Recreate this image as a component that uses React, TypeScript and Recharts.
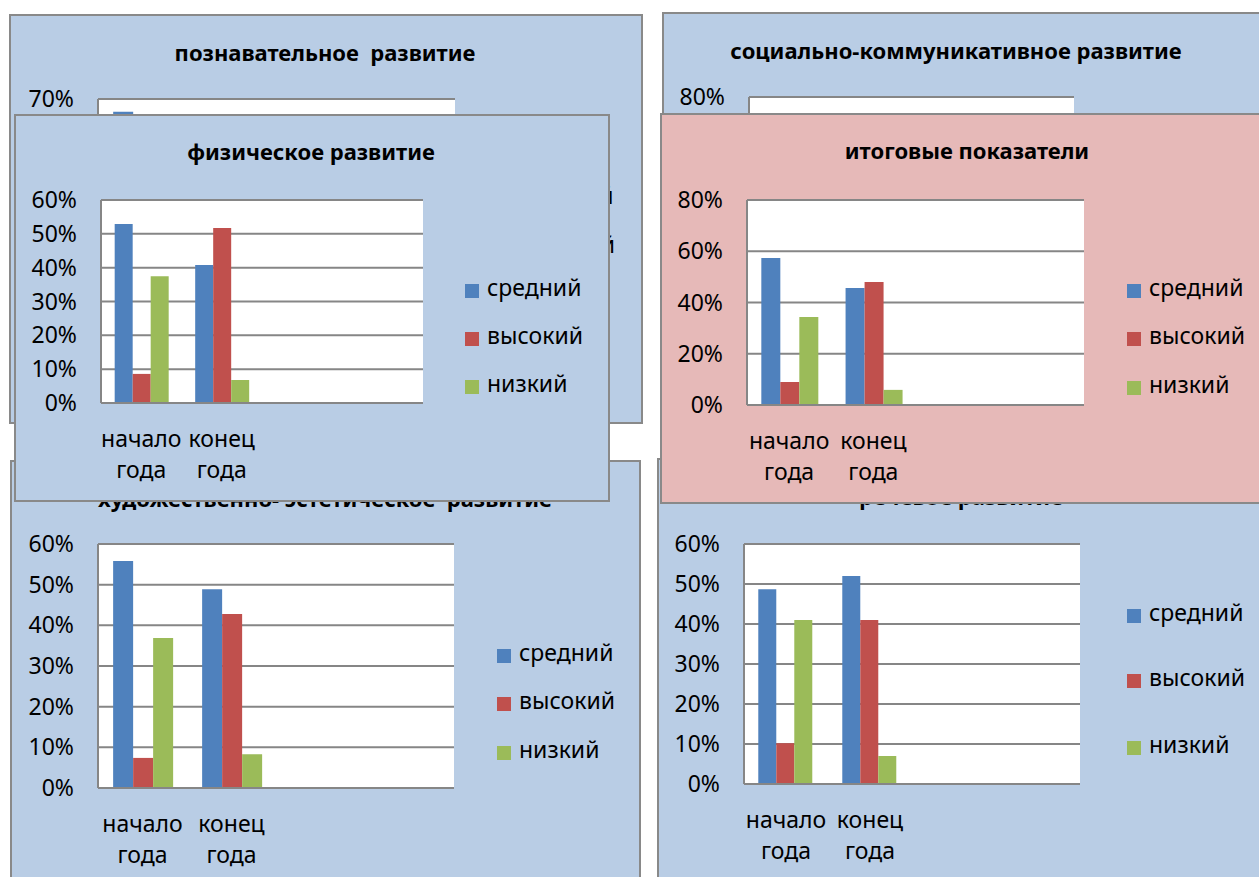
import React from 'react';
import { BarChart, Bar, XAxis, YAxis, CartesianGrid } from 'recharts';

const FONT = '"Noto Sans", sans-serif';
const GRID = '#868686';
const BORDER = '#898989';
const BLUE_BG = '#b9cde5';
const PINK_BG = '#e6b9b8';

const categories = ['начало года', 'конец года', '', ''];
const seriesNames = ['средний', 'высокий', 'низкий'];
const seriesKeys = ['mid', 'high', 'low'];
const seriesColors = ['#4f81bd', '#c0504d', '#9bbb59'];

const ticks60 = [0, 10, 20, 30, 40, 50, 60];
const ticks70 = [0, 10, 20, 30, 40, 50, 60, 70];
const ticks80 = [0, 20, 40, 60, 80];

// познавательное развитие (almost all hidden behind the front chart)
const cognitiveMid = [66, 50, null, null];
const cognitiveHigh = [10, 42, null, null];
const cognitiveLow = [24, 8, null, null];

// социально-коммуникативное развитие (hidden)
const socialMid = [55, 45, null, null];
const socialHigh = [12, 50, null, null];
const socialLow = [33, 5, null, null];

// физическое развитие
const physicalMid = [52.9, 40.8, null, null];
const physicalHigh = [8.6, 51.7, null, null];
const physicalLow = [37.5, 6.8, null, null];

// итоговые показатели
const totalMid = [57.4, 45.7, null, null];
const totalHigh = [9.0, 48.0, null, null];
const totalLow = [34.3, 5.9, null, null];

// художественно-эстетическое развитие
const artMid = [55.8, 48.9, null, null];
const artHigh = [7.4, 42.8, null, null];
const artLow = [36.9, 8.3, null, null];

// речевое развитие
const speechMid = [48.7, 52.0, null, null];
const speechHigh = [10.2, 41.0, null, null];
const speechLow = [41.0, 7.0, null, null];

type Panel = {
  title: string;
  box: number[]; // left, top, right, bottom (page px)
  plot: number[];
  bg: string;
  titleX: number;
  titleBase: number;
  yMax: number;
  ticks: number[];
  series: (number | null)[][];
  legendX: number;
  legendY: number[];
};

// drawn in this order: the back row first, the two front charts last
const panels: Panel[] = [
  {
    title: 'познавательное  развитие',
    box: [9, 14, 643, 424],
    plot: [98, 99, 455, 320],
    bg: BLUE_BG,
    titleX: 325,
    titleBase: 61,
    yMax: 70,
    ticks: ticks70,
    series: [cognitiveMid, cognitiveHigh, cognitiveLow],
    legendX: 497,
    legendY: [199, 248, 297],
  },
  {
    title: 'социально-коммуникативное развитие',
    box: [662, 12, 1272, 420],
    plot: [749, 97, 1074, 300],
    bg: BLUE_BG,
    titleX: 956,
    titleBase: 59,
    yMax: 80,
    ticks: ticks80,
    series: [socialMid, socialHigh, socialLow],
    legendX: 1127,
    legendY: [170, 210, 250],
  },
  {
    title: 'художественно- эстетическое  развитие',
    box: [10, 460, 641, 900],
    plot: [98, 544, 454, 788],
    bg: BLUE_BG,
    titleX: 325,
    titleBase: 507,
    yMax: 60,
    ticks: ticks60,
    series: [artMid, artHigh, artLow],
    legendX: 497,
    legendY: [656, 704, 753],
  },
  {
    title: 'речевое развитие',
    box: [657, 458, 1272, 900],
    plot: [744, 544, 1080, 784],
    bg: BLUE_BG,
    titleX: 961,
    titleBase: 505,
    yMax: 60,
    ticks: ticks60,
    series: [speechMid, speechHigh, speechLow],
    legendX: 1127,
    legendY: [616, 681, 748],
  },
  {
    title: 'физическое развитие',
    box: [14, 114, 610, 502],
    plot: [101, 200, 423, 403],
    bg: BLUE_BG,
    titleX: 311,
    titleBase: 160,
    yMax: 60,
    ticks: ticks60,
    series: [physicalMid, physicalHigh, physicalLow],
    legendX: 465,
    legendY: [291, 339, 387],
  },
  {
    title: 'итоговые показатели',
    box: [660, 113, 1274, 504],
    plot: [747, 200, 1084, 405],
    bg: PINK_BG,
    titleX: 967,
    titleBase: 159,
    yMax: 80,
    ticks: ticks80,
    series: [totalMid, totalHigh, totalLow],
    legendX: 1127,
    legendY: [291, 339, 388],
  },
];

// two-line category label, empty categories get nothing
function CategoryTick(props: any) {
  const { x, y, payload } = props;
  if (!payload || !payload.value) return null;
  const lines = String(payload.value).split(' ');
  return (
    <text x={x} y={y} textAnchor="middle" fontSize={23} fontFamily={FONT} fill="#000">
      {lines.map((line, i) => (
        <tspan key={i} x={x} y={y + 44 + i * 31}>
          {line}
        </tspan>
      ))}
    </text>
  );
}

const Y_AXIS_W = 80;
const X_AXIS_H = 90;

function ChartPanel({ spec }: { spec: Panel }) {
  const [l, t, r, b] = spec.box;
  const [pl, pt, pr, pb] = spec.plot;
  const w = r - l;
  const h = b - t;
  const data = categories.map((name, i) => ({
    name,
    mid: spec.series[0][i],
    high: spec.series[1][i],
    low: spec.series[2][i],
  }));

  return (
    <div
      style={{
        position: 'absolute',
        left: l,
        top: t,
        width: w,
        height: h,
        background: spec.bg,
        boxShadow: `inset 0 0 0 2px ${BORDER}`,
      }}
    >
      <BarChart
        width={w}
        height={h}
        data={data}
        margin={{
          top: pt - t,
          right: r - pr,
          bottom: b - pb - X_AXIS_H,
          left: pl - l - Y_AXIS_W,
        }}
        barCategoryGap="17%"
        barGap={0}
      >
        <CartesianGrid vertical={false} stroke={GRID} strokeWidth={2} fill="#fff" />
        <XAxis
          dataKey="name"
          height={X_AXIS_H}
          interval={0}
          axisLine={{ stroke: GRID, strokeWidth: 2 }}
          tickLine={false}
          tickSize={0}
          tickMargin={0}
          tick={<CategoryTick />}
        />
        <YAxis
          width={Y_AXIS_W}
          type="number"
          domain={[0, spec.yMax]}
          ticks={spec.ticks}
          interval={0}
          tickFormatter={(v: number) => `${v}%`}
          axisLine={{ stroke: GRID, strokeWidth: 2 }}
          tickLine={false}
          tickSize={0}
          tickMargin={24}
          tick={{ fill: '#000', fontSize: 23, fontFamily: FONT }}
        />
        {seriesKeys.map((key, i) => (
          <Bar key={key} dataKey={key} name={seriesNames[i]} fill={seriesColors[i]} isAnimationActive={false} />
        ))}
      </BarChart>
      <svg
        width={w}
        height={h}
        style={{ position: 'absolute', left: 0, top: 0, overflow: 'visible', pointerEvents: 'none' }}
      >
        <text
          x={spec.titleX - l}
          y={spec.titleBase - t}
          textAnchor="middle"
          fontSize={22}
          fontWeight={700}
          fontFamily={FONT}
          fill="#000"
          style={{ whiteSpace: 'pre' }}
        >
          {spec.title}
        </text>
        {seriesNames.map((name, i) => (
          <g key={name}>
            <rect x={spec.legendX - l} y={spec.legendY[i] - t - 7} width={14} height={14} fill={seriesColors[i]} />
            <text x={spec.legendX - l + 22} y={spec.legendY[i] - t + 5} fontSize={23} fontFamily={FONT} fill="#000">
              {name}
            </text>
          </g>
        ))}
      </svg>
    </div>
  );
}

export default function App() {
  return (
    <div
      style={{
        position: 'absolute',
        left: 0,
        top: 0,
        width: 1259,
        height: 877,
        overflow: 'hidden',
        background: '#fff',
        fontFamily: FONT,
      }}
    >
      {panels.map((p) => (
        <ChartPanel key={p.title} spec={p} />
      ))}
    </div>
  );
}
